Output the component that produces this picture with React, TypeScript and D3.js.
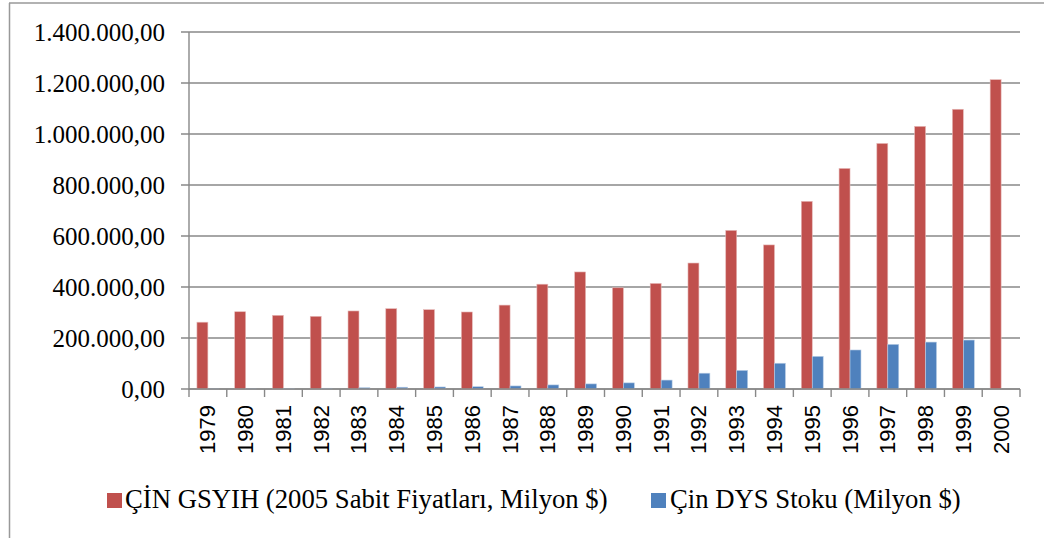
import React from "react";
import * as d3 from "d3";

const years = ["1979","1980","1981","1982","1983","1984","1985","1986","1987","1988","1989","1990","1991","1992","1993","1994","1995","1996","1997","1998","1999","2000"];
const gdp = [262000,303000,289000,285000,306000,315000,311000,302000,329000,411000,459000,397000,414000,494000,622000,565000,736000,865000,963000,1030000,1097000,1213000];
const fdi = [1000,1000,2000,3000,5000,7000,8000,9000,12000,16000,20000,24000,35000,62000,73000,101000,128000,153000,175000,184000,192000,0];
const yTicks = [0,200000,400000,600000,800000,1000000,1200000,1400000];
const legendLabels = ["ÇİN GSYIH (2005 Sabit Fiyatları, Milyon $)", "Çin DYS Stoku (Milyon $)"];
const colors = ["#C0504D", "#4F81BD"];

// 1400000 -> "1.400.000,00"
const fmt = (v: number) => {
  const s = Math.round(v).toString().replace(/\B(?=(\d{3})+(?!\d))/g, ".");
  return s + ",00";
};

export default function App() {
  const width = 1044, height = 538;
  const left = 189, right = 1020, top = 32, bottom = 389;

  const x = d3.scaleBand().domain(years).range([left, right]).paddingInner(0).paddingOuter(0);
  const y = d3.scaleLinear().domain([0, 1400000]).range([bottom, top]);
  const bw = x.bandwidth();
  const barW = bw * 0.29;
  const inner = d3.scaleBand().domain(["gdp", "fdi"]).range([bw / 2 - barW, bw / 2 + barW]);

  const series = [gdp, fdi];
  const grid = "#888888";

  return (
    <svg width={width} height={height} style={{ position: "fixed", left: 0, top: 0, background: "#fff" }}>
      {/* outer frame */}
      <line x1={9} x2={width} y1={3} y2={3} stroke="#999" strokeWidth={1.5} />
      <line x1={9.5} x2={9.5} y1={3} y2={height} stroke="#999" strokeWidth={1.5} />

      {yTicks.map((t) => (
        <g key={t}>
          <line x1={left - 8} x2={right} y1={y(t)} y2={y(t)} stroke={grid} strokeWidth={1.4} />
          <text x={165} y={y(t)} dy="0.37em" textAnchor="end"
            style={{ fontFamily: "Liberation Serif", fontSize: 25 }} fill="#000">
            {fmt(t)}
          </text>
        </g>
      ))}

      {years.map((yr, i) => (
        <g key={yr}>
          {series.map((vals, s) => {
            const v = vals[i];
            if (!v) return null;
            const bx = (x(yr) as number) + (inner(s === 0 ? "gdp" : "fdi") as number);
            return (
              <rect key={s} x={bx} y={y(v)} width={inner.bandwidth()} height={y(0) - y(v)}
                fill={colors[s]} stroke={s === 0 ? "#E6B9B8" : "#B9CDE5"} strokeWidth={0.6} />
            );
          })}
        </g>
      ))}

      <line x1={left} x2={left} y1={top} y2={bottom + 1} stroke={grid} strokeWidth={1.4} />
      <line x1={left} x2={right} y1={bottom} y2={bottom} stroke={grid} strokeWidth={1.4} />
      {years.concat(["end"]).map((yr, i) => {
        const xx = left + i * bw;
        return <line key={yr} x1={xx} x2={xx} y1={bottom} y2={bottom + 8} stroke={grid} strokeWidth={1.4} />;
      })}

      {years.map((yr) => {
        const cx = (x(yr) as number) + bw / 2;
        return (
          <text key={yr} transform={`translate(${cx + 7.5},405) rotate(-90)`} textAnchor="end"
            style={{ fontFamily: "Liberation Sans", fontSize: 22 }} fill="#000">
            {yr}
          </text>
        );
      })}

      {/* legend */}
      <rect x={107} y={493} width={15} height={15} fill={colors[0]} />
      <text x={125} y={508} style={{ fontFamily: "Liberation Serif", fontSize: 26.7 }} fill="#000">{legendLabels[0]}</text>
      <rect x={651} y={493} width={15} height={15} fill={colors[1]} />
      <text x={670} y={508} style={{ fontFamily: "Liberation Serif", fontSize: 26.7 }} fill="#000">{legendLabels[1]}</text>
    </svg>
  );
}
